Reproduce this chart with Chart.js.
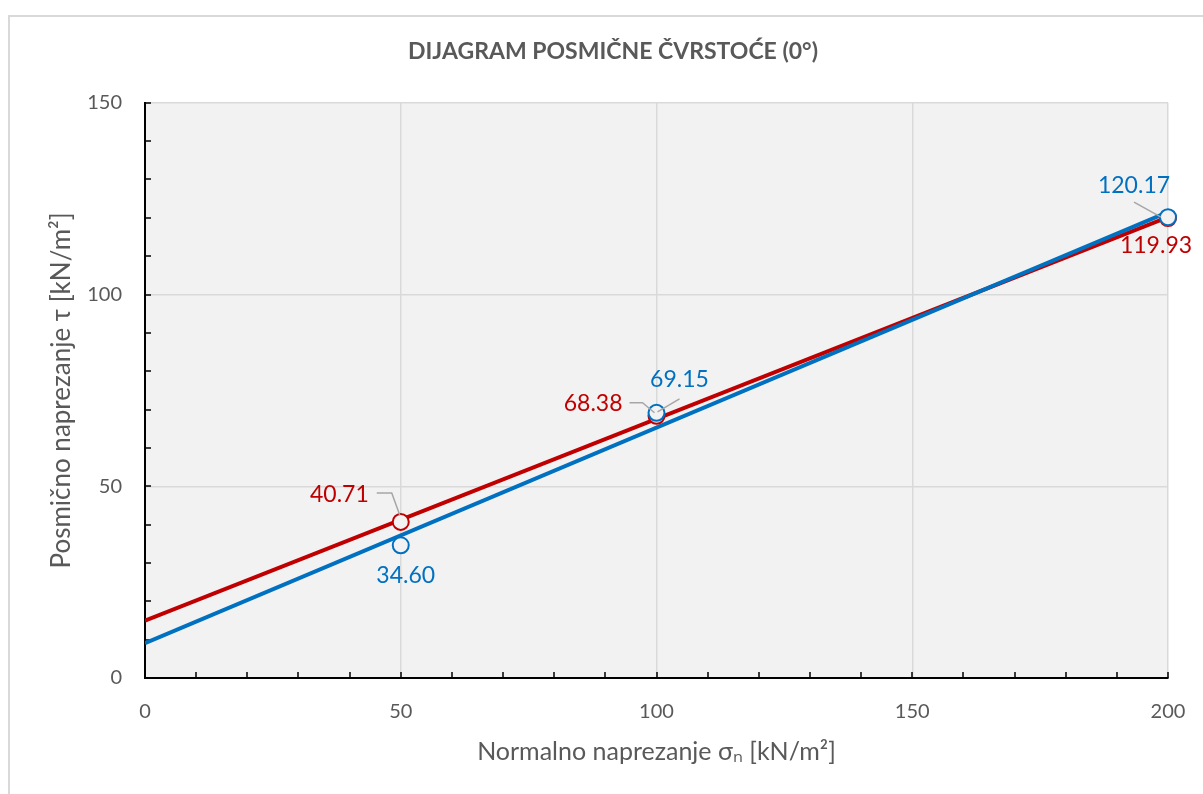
<!DOCTYPE html>
<html>
<head>
<meta charset="utf-8">
<script src="https://cdn.jsdelivr.net/npm/chart.js@4.4.1/dist/chart.umd.min.js"></script>
<style>
html,body{margin:0;padding:0;background:#fff;}
#wrap{width:1203px;height:794px;}
</style>
</head>
<body>
<div id="wrap"><canvas id="myChart" width="1203" height="794"></canvas></div>
<script>
// measured points
const sigma=[50,100,200];
const tauRed=[40.71,68.38,119.93];
const tauBlue=[34.60,69.15,120.17];
// trend line ends (at sigma = 0 and 200)
const trendX=[0,200];
const trendRed=[14.93,120.19];
const trendBlue=[9.09,121.47];

const TITLE='DIJAGRAM POSMIČNE ČVRSTOĆE (0°)';
const RED='#c00000';
const BLUE='#0070c0';
const TXT='#595959';
const FONT='Lato, "Open Sans", sans-serif';
Chart.defaults.font.family=FONT;

const pts=(xs,ys)=>xs.map((x,i)=>({x:x,y:ys[i]}));

// label placement relative to the point (px)
const labelPos={
  0:[ // blue points
    {dx:5,dy:30,align:'center'},
    {dx:23,dy:-33,align:'center',leader:[[23,-14],[1,-1]]},
    {dx:-34,dy:-32,align:'center',leader:[[-34,-15],[-7,0]]}
  ],
  1:[ // red points
    {dx:-32,dy:-27,align:'right',leader:[[-24,-29],[-9,-29],[-1,-7]]},
    {dx:-34,dy:-12,align:'right',leader:[[-27,-13],[-14,-13],[-2,-3]]},
    {dx:-12,dy:27,align:'center'}
  ]
};

const bgPlugin={
  id:'bg',
  beforeDraw(chart){
    const {ctx,chartArea:a}=chart;
    ctx.save();
    ctx.fillStyle='#fff';
    ctx.fillRect(0,0,chart.width,chart.height);
    ctx.strokeStyle='#d9d9d9';
    ctx.lineWidth=2;
    ctx.strokeRect(9,16,chart.width+20,chart.height+20);
    ctx.fillStyle='#f2f2f2';
    ctx.fillRect(a.left,a.top,a.right-a.left,a.bottom-a.top);
    // chart title (centred on the whole original chart box)
    ctx.fillStyle=TXT;
    ctx.font='bold 23px '+FONT;
    ctx.textAlign='center';
    ctx.textBaseline='middle';
    ctx.fillText(TITLE,613,52);
    ctx.restore();
  }
};

const minorTicks={
  id:'minorTicks',
  beforeDatasetsDraw(chart){
    const {ctx,scales:{x,y},chartArea:a}=chart;
    ctx.save();
    ctx.strokeStyle='#000';
    ctx.lineWidth=1.5;
    ctx.beginPath();
    for(let v=10;v<=200;v+=10){
      const px=Math.round(x.getPixelForValue(v));
      ctx.moveTo(px,a.bottom);ctx.lineTo(px,a.bottom-6);
    }
    for(let v=10;v<=150;v+=10){
      const py=Math.round(y.getPixelForValue(v));
      ctx.moveTo(a.left,py);ctx.lineTo(a.left+6,py);
    }
    ctx.stroke();
    ctx.restore();
  }
};

const dataLabels={
  id:'dataLabels',
  afterDatasetsDraw(chart){
    const ctx=chart.ctx;
    ctx.save();
    ctx.font='23px '+FONT;
    ctx.textBaseline='middle';
    Object.keys(labelPos).forEach(k=>{
      const ds=chart.data.datasets[k];
      const meta=chart.getDatasetMeta(k);
      meta.data.forEach((el,i)=>{
        const p=labelPos[k][i];
        if(p.leader){
          ctx.strokeStyle='#a6a6a6';
          ctx.lineWidth=1.5;
          ctx.beginPath();
          p.leader.forEach((q,j)=>{
            if(j===0)ctx.moveTo(el.x+q[0],el.y+q[1]);else ctx.lineTo(el.x+q[0],el.y+q[1]);
          });
          ctx.stroke();
        }
        ctx.fillStyle=ds.borderColor;
        ctx.textAlign=p.align;
        ctx.fillText(ds.data[i].y.toFixed(2),el.x+p.dx,el.y+p.dy);
      });
    });
    ctx.restore();
  }
};

const data={
  datasets:[
    {label:'blue',data:pts(sigma,tauBlue),borderColor:BLUE,backgroundColor:'#f2f2f2',
     pointRadius:8,pointHoverRadius:8,borderWidth:2,showLine:false,clip:false},
    {label:'red',data:pts(sigma,tauRed),borderColor:RED,backgroundColor:'#f2f2f2',
     pointRadius:8,pointHoverRadius:8,borderWidth:2,showLine:false,clip:false},
    {label:'blueTrend',data:pts(trendX,trendBlue),borderColor:BLUE,showLine:true,
     borderWidth:4,pointRadius:0},
    {label:'redTrend',data:pts(trendX,trendRed),borderColor:RED,showLine:true,
     borderWidth:4,pointRadius:0}
  ]
};

const config={
  type:'scatter',
  data,
  options:{
    responsive:false,
    animation:false,
    devicePixelRatio:1,
    layout:{padding:{left:0,right:35,top:0,bottom:0}},
    plugins:{
      legend:{display:false},
      tooltip:{enabled:false},
      // keeps the space above the plot; the text itself is drawn by bgPlugin
      title:{display:true,text:TITLE,color:'rgba(0,0,0,0)',
        font:{size:19,weight:'bold'},padding:{top:40,bottom:40}}
    },
    scales:{
      x:{
        type:'linear',min:0,max:200,
        ticks:{stepSize:50,color:TXT,font:{size:20},padding:22},
        grid:{color:'#d9d9d9',lineWidth:1.5,drawTicks:false},
        border:{color:'#000',width:2},
        title:{display:true,text:'Normalno naprezanje σₙ [kN/m²]',color:TXT,
          font:{size:25},padding:{top:0,bottom:27}},
        afterFit(s){s.height=116;s.paddingLeft=0;s.paddingRight=0;}
      },
      y:{
        type:'linear',min:0,max:150,
        ticks:{stepSize:50,color:TXT,font:{size:20},padding:23},
        grid:{color:'#d9d9d9',lineWidth:1.5,drawTicks:false},
        border:{color:'#000',width:2},
        title:{display:true,text:'Posmično naprezanje τ [kN/m²]',color:TXT,
          font:{size:26},padding:{top:46,bottom:0}},
        afterFit(s){s.width=145;s.paddingTop=0;s.paddingBottom=0;}
      }
    }
  },
  plugins:[bgPlugin,minorTicks,dataLabels]
};

const myChart=new Chart(document.getElementById('myChart'),config);
</script>
</body>
</html>
